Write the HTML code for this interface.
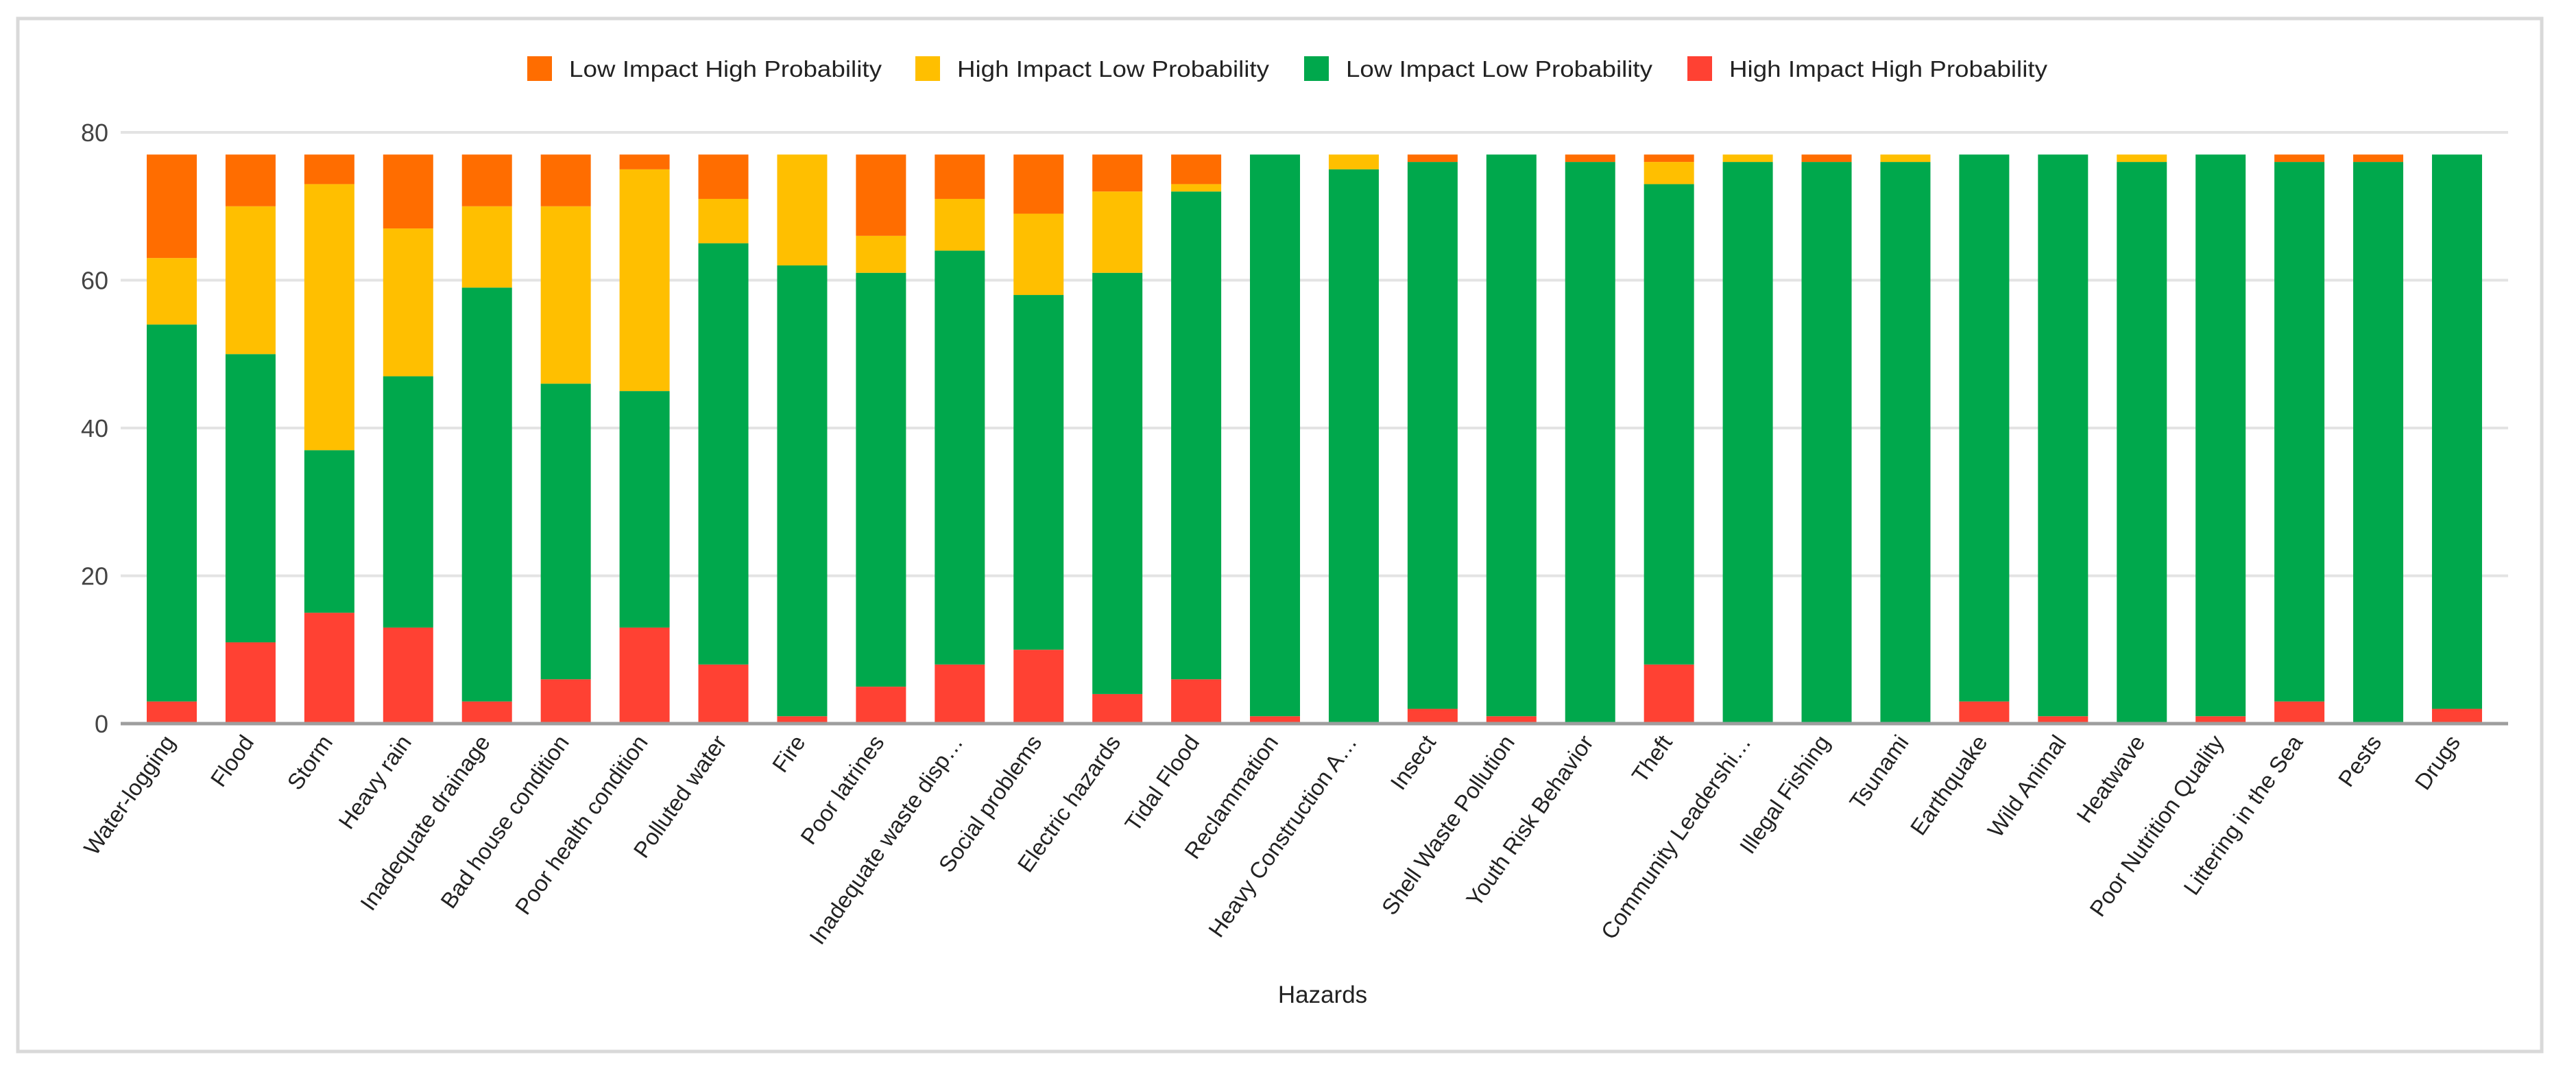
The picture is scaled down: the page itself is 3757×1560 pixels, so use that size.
<!DOCTYPE html>
<html><head><meta charset="utf-8"><style>
html,body{margin:0;padding:0;background:#fff;}
svg{display:block;font-family:"Liberation Sans",Arial,sans-serif;}
</style></head><body>
<svg id="chart" width="3757" height="1560" viewBox="0 0 3757 1560" xmlns="http://www.w3.org/2000/svg">
<rect x="26" y="27" width="3681" height="1506" fill="#fff" stroke="#d9d9d9" stroke-width="5"/>
<g id="grid"></g><g id="bars"></g><g id="xlabels"></g><g id="ylabels"></g>
<g id="legend"></g>
<text x="1929" y="1462" font-size="35" fill="#222" text-anchor="middle">Hazards</text>
</svg>
<script>
const categories=["Water-logging","Flood","Storm","Heavy rain","Inadequate drainage","Bad house condition","Poor health condition","Polluted water","Fire","Poor latrines","Inadequate waste disp…","Social problems","Electric hazards","Tidal Flood","Reclammation","Heavy Construction A…","Insect","Shell Waste Pollution","Youth Risk Behavior","Theft","Community Leadershi…","Illegal Fishing","Tsunami","Earthquake","Wild Animal","Heatwave","Poor Nutrition Quality","Littering in the Sea","Pests","Drugs"];
const highHigh=[3,11,15,13,3,6,13,8,1,5,8,10,4,6,1,0,2,1,0,8,0,0,0,3,1,0,1,3,0,2];
const lowLow=[51,39,22,34,56,40,32,57,61,56,56,48,57,66,76,75,74,76,76,65,76,76,76,74,76,76,76,73,76,75];
const highLow=[9,20,36,20,11,24,30,6,15,5,7,11,11,1,0,2,0,0,0,3,1,0,1,0,0,1,0,0,0,0];
const lowHigh=[14,7,4,10,7,7,2,6,0,11,6,8,5,4,0,0,1,0,1,1,0,1,0,0,0,0,0,1,1,0];
const yTicks=[0,20,40,60,80];
const seriesNames=["Low Impact High Probability","High Impact Low Probability","Low Impact Low Probability","High Impact High Probability"];
const NS="http://www.w3.org/2000/svg";
const plotL=176,plotR=3658,y0=1055,y80=193,firstBar=214,pitch=114.93,barW=73;
const colors={lowHigh:"#ff6d00",highLow:"#ffbf00",lowLow:"#00a84c",highHigh:"#ff4133"};
function y(v){return y0-(v/80)*(y0-y80);}
function xb(i){return firstBar+i*pitch;}
function mk(tag,attrs,parent){const e=document.createElementNS(NS,tag);for(const k in attrs)e.setAttribute(k,attrs[k]);parent.appendChild(e);return e;}
const grid=document.getElementById('grid'),yl=document.getElementById('ylabels');
yTicks.forEach(t=>{
  if(t>0){const g=mk('line',{x1:plotL,x2:plotR,y1:y(t),y2:y(t),stroke:'#e3e3e3','stroke-width':4},grid);
  
  }
  const tx=mk('text',{x:158,y:y(t)+13,'font-size':36,fill:'#444','text-anchor':'end'},yl);
  tx.textContent=t;
  
  
});
const bars=document.getElementById('bars'),xl=document.getElementById('xlabels');
const stack=[["highHigh",highHigh],["lowLow",lowLow],["highLow",highLow],["lowHigh",lowHigh]];
categories.forEach((c,i)=>{
  let base=0;
  stack.forEach(([k,arr])=>{
    const v=arr[i];if(v<=0)return;
    const r=mk('rect',{x:xb(i),y:y(base+v),width:barW,height:y(base)-y(base+v),fill:colors[k]},bars);
    
    
    base+=v;
  });
  const cx=xb(i)+barW/2+6,cy=1082;
  const t=mk('text',{x:cx,y:cy,'font-size':33,fill:'#222','text-anchor':'end',transform:`rotate(-55 ${cx} ${cy})`},xl);
  t.textContent=c;
  
  
});
const bl=mk('line',{x1:plotL,x2:plotR,y1:y0,y2:y0,stroke:'#9e9e9e','stroke-width':5},bars);


const lg=document.getElementById('legend');
const legX=[769,1335,1902,2461],legW=[456,455,447,464],legC=[colors.lowHigh,colors.highLow,colors.lowLow,colors.highHigh];
seriesNames.forEach((n,i)=>{
  const s=mk('rect',{x:legX[i],y:82,width:36,height:36,fill:legC[i]},lg);
  
  
  const t=mk('text',{x:legX[i]+61,y:112,'font-size':33,fill:'#222',textLength:legW[i],lengthAdjust:'spacingAndGlyphs'},lg);
  t.textContent=n;
  
  
});
</script>
</body></html>
